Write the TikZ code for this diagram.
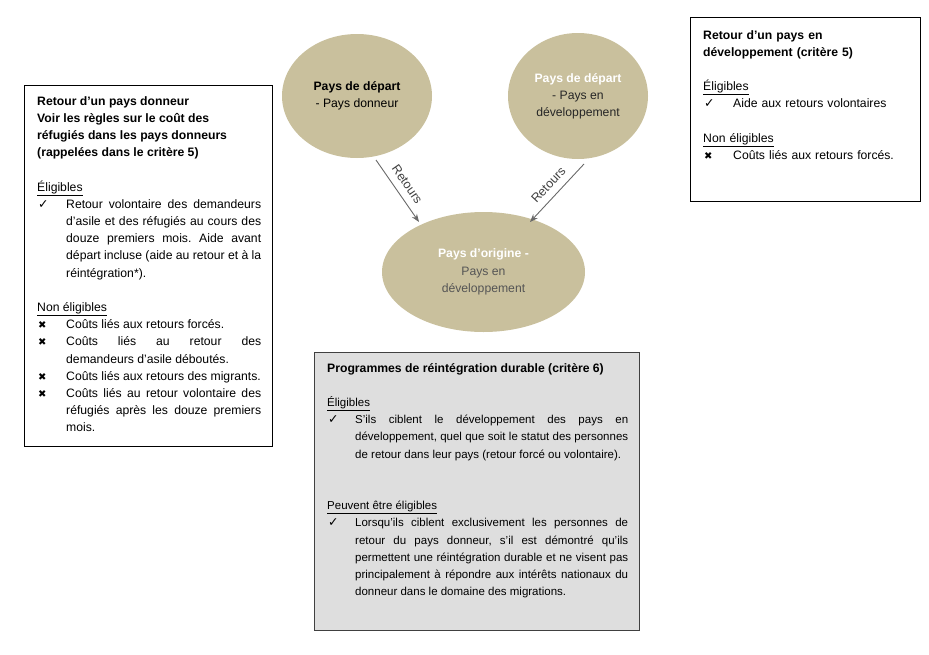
\documentclass[tikz,border=0pt]{standalone}
\usepackage{fontspec}
\setmainfont{Liberation Sans}
\newfontfamily\dejavu{DejaVu Sans}
\usetikzlibrary{shapes.geometric,arrows.meta}
\frenchspacing
\definecolor{khaki}{RGB}{201,192,157}
\definecolor{arrowgray}{RGB}{105,105,105}
\definecolor{boxgray}{RGB}{222,222,222}
\definecolor{txtgray}{RGB}{85,85,85}
\newcommand{\ckmark}{{\dejavu\fontsize{12.5}{12}\selectfont ✓}}
\newcommand{\xmark}{{\dejavu\fontsize{10}{10}\selectfont ✖}}
\newcommand{\listitem}[3]{\par\noindent\hangindent=#1\hangafter=1\makebox[#1][l]{\hspace{1pt}#2}#3\par}
\begin{document}
\begin{tikzpicture}[x=1pt,y=-1pt,
  every node/.style={font=\fontsize{12.2}{17.2}\selectfont},
  frame/.style={draw=black,line width=0.8pt,anchor=north west,inner sep=0pt},
  content/.style={anchor=north west,inner sep=0pt,align=justify,
    execute at begin node={\frenchspacing\hyphenpenalty=10000\exhyphenpenalty=10000}},
  blob/.style={ellipse,fill=khaki,inner sep=0pt,align=center},
  ret/.style={draw=arrowgray,line width=0.9pt,-{Stealth[length=8pt,width=6pt]}},
  retlabel/.style={sloped,above,text=black!75,inner sep=7pt,font=\fontsize{12.5}{14}\selectfont}]
\useasboundingbox (0,0) rectangle (929,654);

% ellipses
\node[blob,minimum width=150,minimum height=124] (e1) at (357,96)
  {\textbf{Pays de départ}\\- Pays donneur};
\node[blob,minimum width=140,minimum height=126] (e2) at (578,96)
  {\textcolor{white}{\textbf{Pays de départ}}\\\textcolor{black!85}{- Pays en}\\\textcolor{black!85}{développement}};
\node[blob,minimum width=203,minimum height=120] (e3) at (483.5,272)
  {\textcolor{white}{\textbf{Pays d’origine -}}\\\textcolor{txtgray}{Pays en}\\\textcolor{txtgray}{développement}};

% arrows
\coordinate (a1s) at (376,160);
\coordinate (a1e) at (419,222);
\coordinate (a2s) at (584,164);
\coordinate (a2e) at (530,222);
\draw[ret] (a1s) -- node[retlabel] {Retours} (a1e);
\draw[ret] (a2s) -- node[retlabel] {Retours} (a2e);

% left box
\node[frame,minimum width=248,minimum height=361] (lb) at (24,85) {};
\node[content,text width=224] (lbt) at (37,96) {%
{\raggedright\textbf{Retour d'un pays donneur}\\
\textbf{Voir les règles sur le coût des}\\
\textbf{réfugiés dans les pays donneurs}\\
\textbf{(rappelées dans le critère 5)}\par}
\vspace{17.2pt}\noindent\underline{Éligibles}\par
\listitem{29pt}{\ckmark}{Retour volontaire des demandeurs\linebreak d'asile et des réfugiés au cours des\linebreak douze premiers mois. Aide avant\linebreak départ incluse (aide au retour et à la\linebreak réintégration*).}
\vspace{17.2pt}\noindent\underline{Non éligibles}\par
\listitem{29pt}{\xmark}{Coûts liés aux retours forcés.}
\listitem{29pt}{\xmark}{Coûts liés au retour des\linebreak demandeurs d’asile déboutés.}
\listitem{29pt}{\xmark}{Coûts liés aux retours des migrants.}
\listitem{29pt}{\xmark}{Coûts liés au retour volontaire des\linebreak réfugiés après les douze premiers\linebreak mois.}};

% right box
\node[frame,minimum width=230,minimum height=184] (rb) at (690,17) {};
\node[content,text width=210,align=left] (rbt) at (703,30) {%
\textbf{Retour d'un pays en}\\
\textbf{développement (critère 5)}\par
\vspace{17.2pt}\noindent\underline{Éligibles}\par
\listitem{30pt}{\ckmark}{Aide aux retours volontaires}
\vspace{17.2pt}\noindent\underline{Non éligibles}\par
\listitem{30pt}{\xmark}{Coûts liés aux retours forcés.}};

% bottom box
\node[frame,draw=black!75,fill=boxgray,minimum width=325,minimum height=278] (bb) at (314,352) {};
\node[content,text width=301,font=\fontsize{11.5}{17.2}\selectfont] (bbt) at (327,363) {%
{\raggedright\fontsize{12.2}{17.2}\selectfont\textbf{Programmes de réintégration durable (critère 6)}\par}
\vspace{17.2pt}\noindent\underline{Éligibles}\par
\listitem{28pt}{\ckmark}{S'ils ciblent le développement des pays en\linebreak développement, quel que soit le statut des personnes\linebreak de retour dans leur pays (retour forcé ou volontaire).}
\vspace{34.4pt}\noindent\underline{Peuvent être éligibles}\par
\listitem{28pt}{\ckmark}{Lorsqu’ils ciblent exclusivement les personnes de\linebreak retour du pays donneur, s’il est démontré qu’ils\linebreak permettent une réintégration durable et ne visent pas\linebreak principalement à répondre aux intérêts nationaux du\linebreak donneur dans le domaine des migrations.}};
\end{tikzpicture}
\end{document}
